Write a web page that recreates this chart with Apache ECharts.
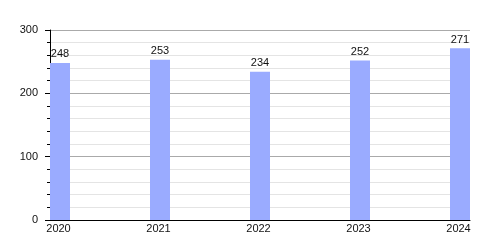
<!DOCTYPE html>
<html>
<head>
<meta charset="utf-8">
<script src="https://cdn.jsdelivr.net/npm/echarts@6/dist/echarts.min.js"></script>
<style>html,body{margin:0;padding:0;background:#fff;}#c{width:500px;height:250px;}</style>
</head>
<body>
<div id="c"></div>
<script>
const years = [2020, 2021, 2022, 2023, 2024];
const values = [248, 253, 234, 252, 271];
const yTicks = [0, 100, 200, 300];

const chart = echarts.init(document.getElementById('c'), null, {renderer: 'canvas'});
const font = 'Liberation Sans, Arial, sans-serif';
chart.setOption({
  animation: false,
  backgroundColor: '#fff',
  grid: {left: 50, right: 30, top: 30, bottom: 30, containLabel: false},
  xAxis: {
    type: 'value',
    min: years[0],
    max: years[years.length - 1] + 0.2,
    interval: 1,
    axisLine: {show: true, lineStyle: {color: '#000', width: 1}},
    axisTick: {show: false},
    splitLine: {show: false},
    axisLabel: {
      showMaxLabel: false,
      color: '#111', fontFamily: font, fontSize: 11, margin: 3,
      padding: [0, 0, 0, 17],
      formatter: v => String(v)
    }
  },
  yAxis: {
    type: 'value',
    min: yTicks[0],
    max: yTicks[yTicks.length - 1],
    interval: 100,
    axisLine: {show: true, lineStyle: {color: '#000', width: 1}},
    axisTick: {show: true, length: 5, lineStyle: {color: '#000'}},
    minorTick: {show: true, splitNumber: 5, length: 3, lineStyle: {color: '#000'}},
    splitLine: {show: true, lineStyle: {color: '#aaaaaa', width: 1}},
    minorSplitLine: {show: true, lineStyle: {color: '#e4e4e4', width: 1}},
    axisLabel: {color: '#111', fontFamily: font, fontSize: 11, margin: 12}
  },
  series: [
    {type: 'bar', name: 'spacer', data: [], barWidth: 20, barGap: '0%'},
    {
      type: 'bar', name: 'value',
      data: years.map((y, i) => [y, values[i]]),
      barWidth: 20, barGap: '0%',
      itemStyle: {color: '#9aabff'},
      label: {show: true, position: 'top', distance: 3, color: '#111', fontFamily: font, fontSize: 11}
    }
  ]
});
</script>
</body>
</html>
